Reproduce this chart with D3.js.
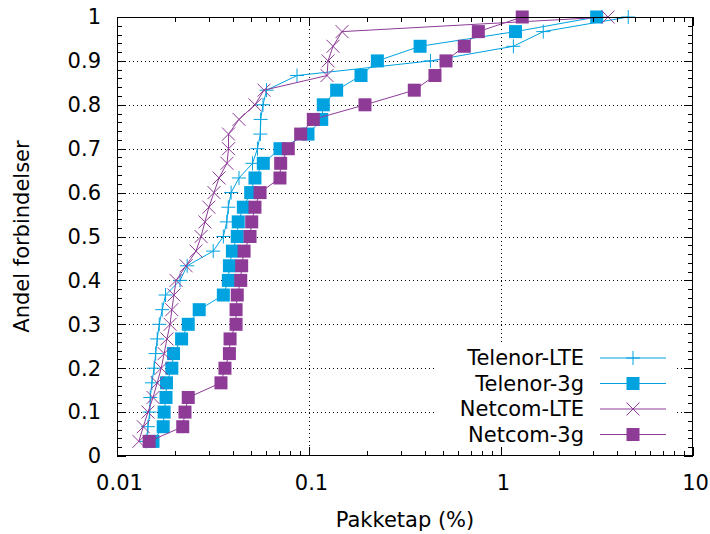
<!DOCTYPE html>
<html>
<head>
<meta charset="utf-8">
<script src="https://cdn.jsdelivr.net/npm/d3@7"></script>
<style>
  body { margin: 0; background: #fff; }
  svg { display: block; font-family: "DejaVu Sans", sans-serif; }
</style>
</head>
<body>
<svg id="chart" width="710" height="534"></svg>
<script>
// andel forbindelser (cdf), same for all series
var andel = [0.0333, 0.0667, 0.1, 0.1333, 0.1667, 0.2, 0.2333, 0.2667, 0.3, 0.3333,
             0.3667, 0.4, 0.4333, 0.4667, 0.5, 0.5333, 0.5667, 0.6, 0.6333, 0.6667,
             0.7, 0.7333, 0.7667, 0.8, 0.8333, 0.8667, 0.9, 0.9333, 0.9667, 1.0];

var telenorLTE = [0.0142, 0.0145, 0.0148, 0.0149, 0.0152, 0.0156, 0.0159, 0.0162, 0.0166, 0.0172,
                  0.0179, 0.0213, 0.0232, 0.0317, 0.0358, 0.0373, 0.0380, 0.0393, 0.0432, 0.0508,
                  0.0539, 0.0558, 0.0560, 0.0576, 0.0601, 0.0866, 0.429, 1.16, 1.66, 4.60];
var telenor3g  = [0.0154, 0.0174, 0.0176, 0.0180, 0.0181, 0.0193, 0.0197, 0.0217, 0.0235, 0.0268,
                  0.0358, 0.0380, 0.0385, 0.0399, 0.0423, 0.0428, 0.0455, 0.0497, 0.0523, 0.0578,
                  0.0706, 0.0988, 0.1165, 0.1187, 0.1393, 0.1866, 0.227, 0.379, 1.19, 3.15];
var netcomLTE  = [0.0130, 0.0137, 0.0145, 0.0154, 0.0162, 0.0170, 0.0176, 0.0182, 0.0189, 0.0193,
                  0.0198, 0.0203, 0.0229, 0.0258, 0.0274, 0.0287, 0.0301, 0.0320, 0.0340, 0.0374,
                  0.0381, 0.0381, 0.0432, 0.0523, 0.0583, 0.1241, 0.1257, 0.1334, 0.1486, 3.61];
var netcom3g   = [0.0147, 0.0220, 0.0226, 0.0235, 0.0348, 0.0365, 0.0385, 0.0388, 0.0417, 0.0417,
                  0.0423, 0.0441, 0.0446, 0.0459, 0.0493, 0.0503, 0.0523, 0.0556, 0.0706, 0.0712,
                  0.0780, 0.0905, 0.1053, 0.1957, 0.3535, 0.453, 0.517, 0.644, 0.762, 1.29];

var seriesNames = ["Telenor-LTE", "Telenor-3g", "Netcom-LTE", "Netcom-3g"];
var seriesValues = [telenorLTE, telenor3g, netcomLTE, netcom3g];
var seriesColors = ["#00a3e0", "#00a3e0", "#8e3b98", "#8e3b98"];
var seriesMarkers = ["plus", "square", "cross", "square"];

var xTicks = [0.01, 0.1, 1, 10];
var xTickLabels = ["0.01", "0.1", "1", "10"];
var yTicks = [0, 0.1, 0.2, 0.3, 0.4, 0.5, 0.6, 0.7, 0.8, 0.9, 1];
var yTickLabels = ["0", "0.1", "0.2", "0.3", "0.4", "0.5", "0.6", "0.7", "0.8", "0.9", "1"];

var main = function() {
    var svg = d3.select("#chart");
    var L = 117, R = 693, T = 17, B = 456;
    var fs = 21;

    var x = d3.scaleLog().domain([0.01, 10]).range([L, R]);
    var y = d3.scaleLinear().domain([0, 1]).range([B, T]);

    // dotted grid
    var grid = svg.append("g").attr("stroke", "#000").attr("stroke-width", 1)
        .attr("stroke-dasharray", "1,3");
    grid.selectAll(".gx").data(xTicks.slice(1, -1)).enter().append("line")
        .attr("x1", d => Math.round(x(d)) + 0.5).attr("x2", d => Math.round(x(d)) + 0.5)
        .attr("y1", T).attr("y2", B);
    grid.selectAll(".gy").data(yTicks.slice(1, -1)).enter().append("line")
        .attr("x1", L).attr("x2", R)
        .attr("y1", d => Math.round(y(d)) + 0.5).attr("y2", d => Math.round(y(d)) + 0.5);

    // series
    var line = d3.line().x(d => x(d[0])).y(d => y(d[1]));
    seriesValues.forEach(function(vals, i) {
        var pts = vals.map((v, j) => [v, andel[j]]);
        var g = svg.append("g");
        g.append("path").datum(pts).attr("d", line)
            .attr("fill", "none").attr("stroke", seriesColors[i]).attr("stroke-width", 1);
        drawMarkers(g, pts.map(p => [x(p[0]), y(p[1])]), seriesMarkers[i], seriesColors[i]);
    });

    // opaque key
    svg.append("rect").attr("x", 436).attr("y", 345).attr("width", 241).attr("height", 110)
        .attr("fill", "#fff");
    var key = svg.append("g");
    seriesNames.forEach(function(name, i) {
        var cy = 358 + i * 25.5;
        key.append("text").attr("x", 584).attr("y", cy).attr("dy", "0.35em")
            .attr("text-anchor", "end").attr("font-size", fs).text(name);
        key.append("line").attr("x1", 600).attr("x2", 666).attr("y1", cy).attr("y2", cy)
            .attr("stroke", seriesColors[i]).attr("stroke-width", 1);
        drawMarkers(key, [[633, cy]], seriesMarkers[i], seriesColors[i]);
    });

    // border + ticks
    var ax = svg.append("g").attr("stroke", "#000").attr("stroke-width", 1);
    ax.append("rect").attr("x", L + 0.5).attr("y", T + 0.5)
        .attr("width", R - L - 1).attr("height", B - T - 1).attr("fill", "none");

    var minorX = [];
    [0.01, 0.1, 1].forEach(function(dec) {
        [2, 3, 4, 5, 6, 7, 8, 9].forEach(m => minorX.push(dec * m));
    });
    var minorY = d3.range(0, 51).map(i => i / 50);

    function xt(vals, len) {
        vals.forEach(function(v) {
            var px = Math.round(x(v)) + 0.5;
            ax.append("line").attr("x1", px).attr("x2", px).attr("y1", B).attr("y2", B - len);
            ax.append("line").attr("x1", px).attr("x2", px).attr("y1", T).attr("y2", T + len);
        });
    }
    function yt(vals, len) {
        vals.forEach(function(v) {
            var py = Math.round(y(v)) + 0.5;
            ax.append("line").attr("x1", L).attr("x2", L + len).attr("y1", py).attr("y2", py);
            ax.append("line").attr("x1", R).attr("x2", R - len).attr("y1", py).attr("y2", py);
        });
    }
    xt(xTicks, 9); xt(minorX, 5);
    yt(yTicks, 9); yt(minorY, 5);

    // tick labels
    svg.selectAll(".xl").data(xTicks).enter().append("text")
        .attr("x", d => x(d) + 2.5).attr("y", 490).attr("text-anchor", "middle")
        .attr("font-size", fs).text((d, i) => xTickLabels[i]);
    svg.selectAll(".yl").data(yTicks).enter().append("text")
        .attr("x", 101).attr("y", d => y(d)).attr("dy", "0.35em").attr("text-anchor", "end")
        .attr("font-size", fs).text((d, i) => yTickLabels[i]);

    svg.append("text").attr("x", (L + R) / 2).attr("y", 527).attr("text-anchor", "middle")
        .attr("font-size", fs).text("Pakketap (%)");
    svg.append("text").attr("transform", "translate(29," + ((T + B) / 2) + ") rotate(-90)")
        .attr("text-anchor", "middle").attr("font-size", fs).text("Andel forbindelser");
};

function drawMarkers(g, pts, type, color) {
    pts.forEach(function(p) {
        var cx = p[0], cy = p[1];
        if (type == "square") {
            g.append("rect").attr("x", cx - 6.5).attr("y", cy - 6.5).attr("width", 13).attr("height", 13)
                .attr("fill", color);
        } else if (type == "plus") {
            g.append("path").attr("d", "M" + (cx - 7) + "," + cy + "h14M" + cx + "," + (cy - 7) + "v14")
                .attr("stroke", color).attr("stroke-width", 1).attr("fill", "none");
        } else {
            g.append("path").attr("d", "M" + (cx - 6.5) + "," + (cy - 6.5) + "l13,13M" + (cx - 6.5) + "," + (cy + 6.5) + "l13,-13")
                .attr("stroke", color).attr("stroke-width", 1).attr("fill", "none");
        }
    });
}

main();
</script>
</body>
</html>
